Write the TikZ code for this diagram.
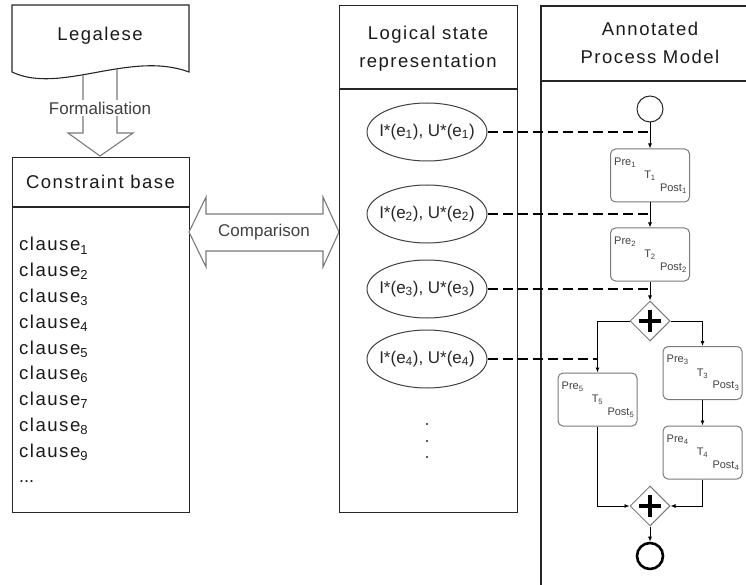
\documentclass[tikz,border=0pt]{standalone}
\usepackage{fontspec}
\setmainfont{Liberation Sans}
\newfontfamily\spacedfont[LetterSpace=8]{Liberation Sans}
\usetikzlibrary{arrows.meta,shapes.geometric}
\definecolor{boxcol}{HTML}{262626}
\definecolor{lightcol}{HTML}{7A7A7A}
\definecolor{txtcol}{HTML}{1A1A1A}
\definecolor{softtxt}{HTML}{404040}
\tikzset{
  boxline/.style={draw=boxcol, line width=1.1pt},
  titletext/.style={font=\spacedfont\fontsize{18.5}{27.5}\selectfont, text=txtcol, align=center, inner sep=0pt},
  clausetext/.style={font=\spacedfont\fontsize{18.6}{22}\selectfont, text=txtcol, anchor=base west, inner sep=0pt},
  ellshape/.style={ellipse, draw=softtxt, line width=1pt, minimum width=120pt, minimum height=58pt, inner sep=0pt},
  elltext/.style={font=\fontsize{17}{20}\selectfont, text=boxcol, inner sep=0pt},
  taskbox/.style={draw=lightcol, line width=1pt, rounded corners=5pt, minimum width=79pt, minimum height=53pt, inner sep=0pt},
  tasktext/.style={font=\fontsize{11}{13}\selectfont, text=softtxt, inner sep=0pt},
  gateway/.style={diamond, draw=lightcol, line width=1pt, minimum width=40pt, minimum height=40pt, inner sep=0pt, aspect=1},
  flow/.style={draw=black, line width=0.9pt, -{Latex[length=5pt,width=4pt]}},
  maplink/.style={draw=black, line width=2.6pt, dash pattern=on 10pt off 5pt},
  plusbar/.style={line width=4pt, draw=black},
  blockarrow/.style={draw=lightcol, line width=1.1pt, line join=miter},
  labeltext/.style={font=\fontsize{17}{20}\selectfont, text=softtxt},
}
\newcommand\mktask[4]{%
  \node[taskbox] (#1) at (#2,#3) {};
  \node[tasktext, anchor=west] (#1pre) at ([shift={(-36,-13)}]#1.center) {Pre\textsubscript{#4}};
  \node[tasktext] (#1t) at ([shift={(0,0.5)}]#1.center) {T\textsubscript{#4}};
  \node[tasktext, anchor=east] (#1post) at ([shift={(37,13)}]#1.center) {Post\textsubscript{#4}};
}
\begin{document}
\begin{tikzpicture}[x=1pt,y=-1pt]
\useasboundingbox (0,0) rectangle (746,585);
% Legalese document
\draw[boxline] (12,72) -- (12,5) -- (189,5) -- (189,72) .. controls (130,50) and (60,95) .. (12,72) -- cycle;
\node[titletext] (legal) at (100,36) {Legalese};
% Formalisation arrow
\draw[blockarrow] (83,75) -- (83,133) -- (68,133) -- (100,156) -- (133,133) -- (117,133) -- (117,69);
\node[labeltext, fill=white, inner sep=2pt] (formal) at (100,108) {Formalisation};
% Constraint base
\node[boxline, minimum width=177pt, minimum height=355pt, anchor=north west, inner sep=0pt] (cb) at (12,157) {};
\draw[boxline] (12,207) -- (189,207);
\node[titletext] (cbt) at (100.5,182) {Constraint base};
\foreach \i in {1,...,9} {
  \node[clausetext] (cl\i) at (19,{251+25.75*(\i-1)}) {clause\textsubscript{\i}};
}
\node[clausetext, font=\fontsize{18}{22}\selectfont] (cldots) at (19,482) {...};
% Comparison arrow
\coordinate (cmpL) at (189,232);
\coordinate (cmpR) at (339,232);
\draw[blockarrow] (cmpL) -- (206,197) -- (206,214) -- (323,214) -- (323,197) -- (cmpR) -- (323,267) -- (323,251) -- (206,251) -- (206,267) -- cycle;
\node[labeltext] (cmp) at (264,232) {Comparison};
% Logical state representation
\node[boxline, minimum width=178pt, minimum height=507pt, anchor=north west, inner sep=0pt] (lsr) at (339,5) {};
\draw[boxline] (339,89) -- (517,89);
\node[titletext] (lsrt) at (428,48.5) {Logical state\\representation};
\node[ellshape] (e1) at (427,132) {};
\node[elltext] (e1t) at (e1) {I*(e\textsubscript{1}), U*(e\textsubscript{1})};
\node[ellshape] (e2) at (427,214) {};
\node[elltext] (e2t) at (e2) {I*(e\textsubscript{2}), U*(e\textsubscript{2})};
\node[ellshape] (e3) at (427,289) {};
\node[elltext] (e3t) at (e3) {I*(e\textsubscript{3}), U*(e\textsubscript{3})};
\node[ellshape] (e4) at (427,359) {};
\node[elltext] (e4t) at (e4) {I*(e\textsubscript{4}), U*(e\textsubscript{4})};
\fill[boxcol] (427,424) circle (1.1pt);
\fill[boxcol] (427,441) circle (1.1pt);
\fill[boxcol] (427,457) circle (1.1pt);
% Annotated process model lane
\draw[boxline] (746,6) -- (541,6) -- (541,585);
\draw[boxline] (541,81) -- (746,81);
\node[titletext] (apmt) at (650,43) {Annotated\\Process Model};
% Process
\node[circle, draw=boxcol, line width=1pt, minimum size=26pt, inner sep=0pt] (start) at (650,109) {};
\mktask{t1}{650}{175.5}{1}
\mktask{t2}{650}{254.5}{2}
\mktask{t3}{702.5}{373}{3}
\mktask{t4}{702.5}{452.5}{4}
\mktask{t5}{597.5}{399.5}{5}
\node[gateway] (g1) at (650,321) {};
\node[gateway] (g2) at (650,506) {};
\draw[plusbar] ([xshift=-11pt]g1.center) -- ([xshift=11pt]g1.center);
\draw[plusbar] ([yshift=-11pt]g1.center) -- ([yshift=11pt]g1.center);
\draw[plusbar] ([xshift=-11pt]g2.center) -- ([xshift=11pt]g2.center);
\draw[plusbar] ([yshift=-11pt]g2.center) -- ([yshift=11pt]g2.center);
\node[circle, draw=black, line width=2.6pt, minimum size=26pt, inner sep=0pt] (end) at (650,556) {};
\draw[flow] (start) -- (t1);
\draw[flow] (t1) -- (t2);
\draw[flow] (t2) -- (g1);
\draw[flow] (g1.west) -| (t5.north);
\draw[flow] (g1.east) -| (t3.north);
\draw[flow] (t3) -- (t4);
\draw[flow] (t5.south) |- (g2.west);
\draw[flow] (t4.south) |- (g2.east);
\draw[flow] (g2) -- (end);
% mapping links
\draw[maplink] (e1.east) -- (start.south |- e1.east);
\draw[maplink] (e2.east) -- (t1.south |- e2.east);
\draw[maplink] (e3.east) -- (t2.south |- e3.east);
\draw[maplink] (e4.east) -- (t5.north |- e4.east);
\end{tikzpicture}
\end{document}
